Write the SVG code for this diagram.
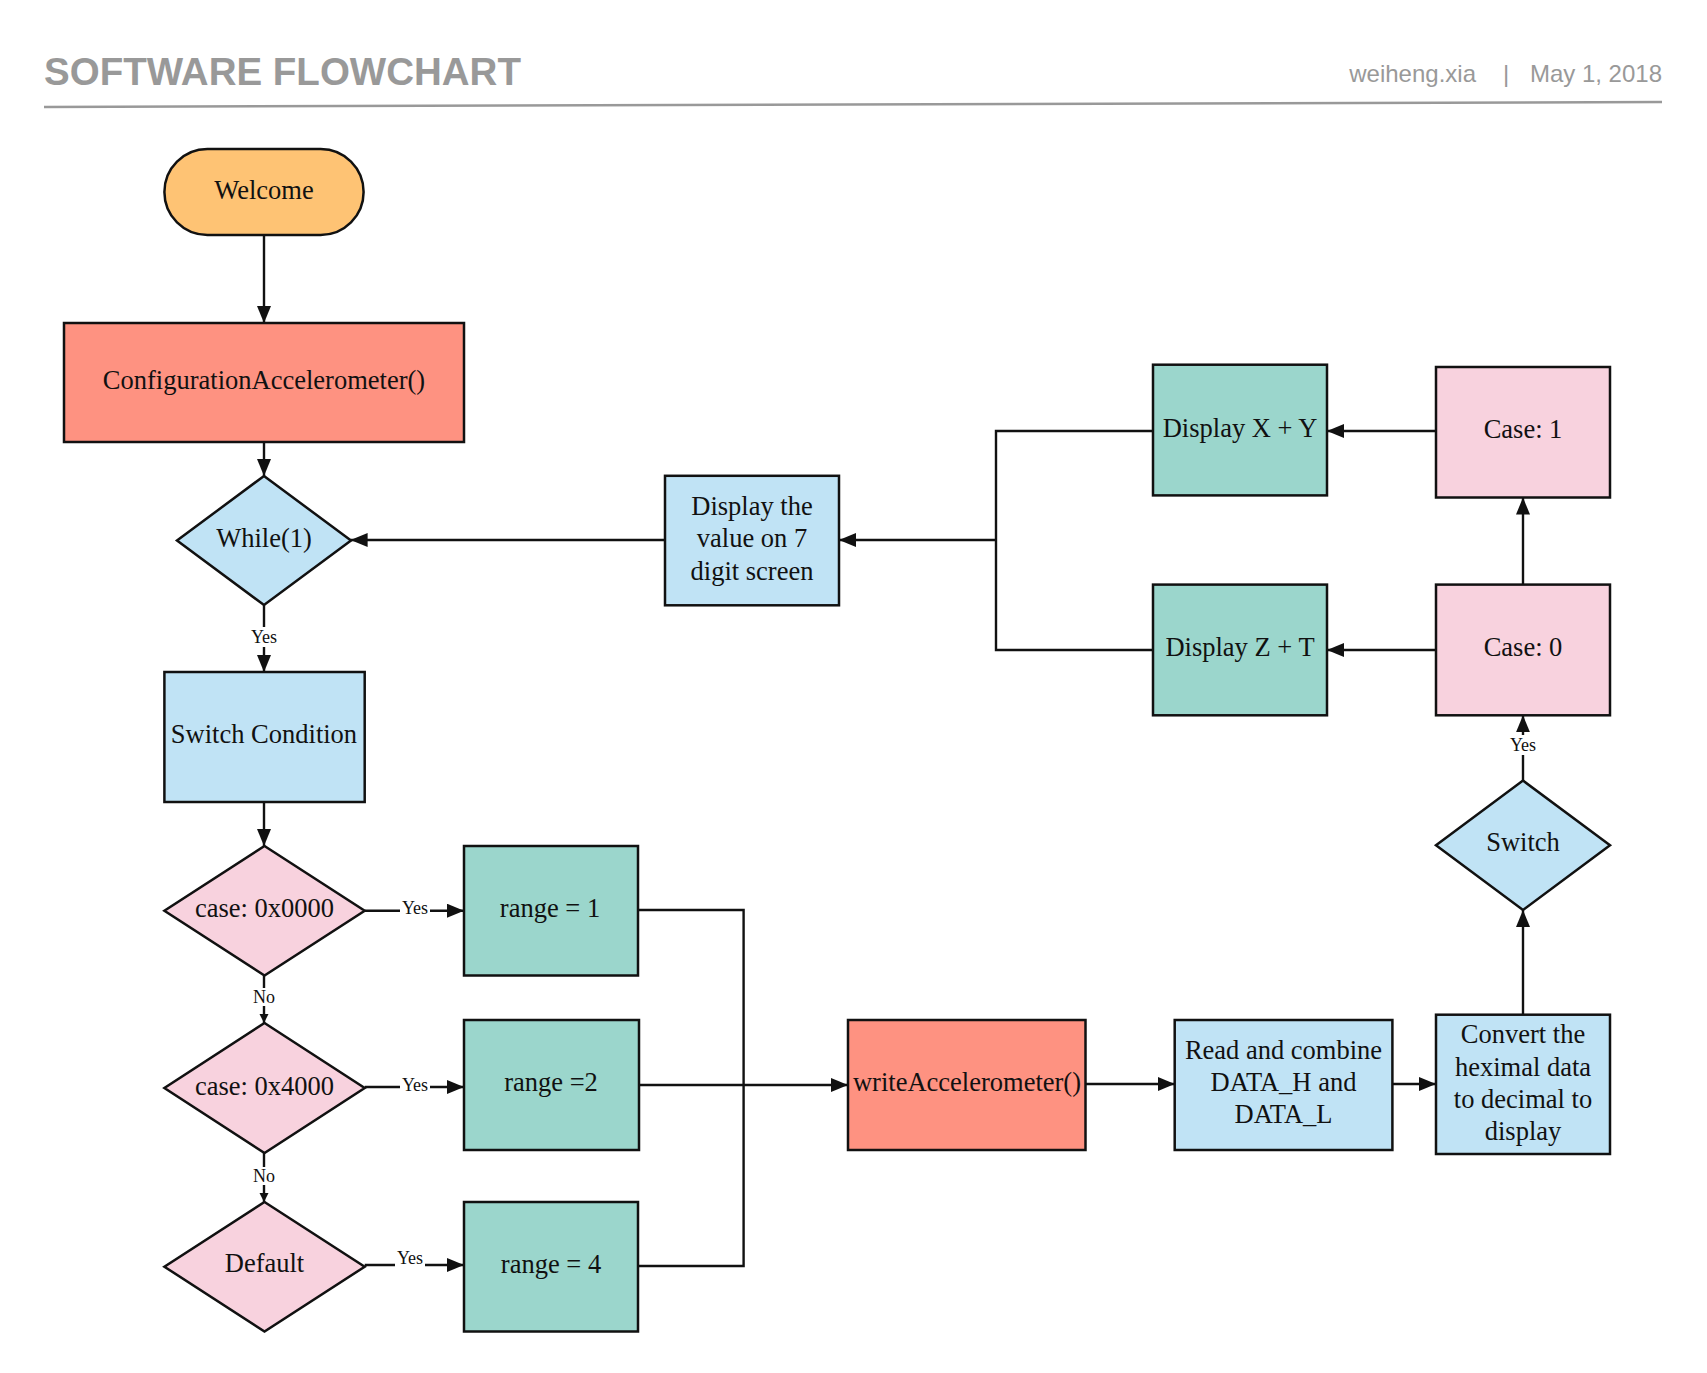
<svg xmlns="http://www.w3.org/2000/svg" width="1707" height="1373" viewBox="0 0 1707 1373">
<style>
.t{font-family:"Liberation Serif","Times New Roman",serif;font-size:26.5px;fill:#111;text-anchor:middle}
.lb{font-family:"Liberation Serif","Times New Roman",serif;font-size:18px;fill:#111;text-anchor:middle}
.n{stroke:#111;stroke-width:2.5}
.orange{fill:#FEC374}
.salmon{fill:#FE9281}
.blue{fill:#C0E3F5}
.pink{fill:#F8D2DE}
.teal{fill:#9BD6CC}
.c{fill:none;stroke:#111;stroke-width:2.4}
.hdr{font-family:"Liberation Sans",Arial,sans-serif;fill:#999}
</style>
<defs>
<marker id="ah" markerUnits="userSpaceOnUse" markerWidth="18" markerHeight="14" refX="17" refY="7" orient="auto">
<path d="M0,0 L17,7 L0,14 z" fill="#111"/>
</marker>
<marker id="ahs" markerUnits="userSpaceOnUse" markerWidth="10" markerHeight="10" refX="9" refY="4.5" orient="auto">
<path d="M0,0 L9,4.5 L0,9 z" fill="#111"/>
</marker>
</defs>
<rect width="1707" height="1373" fill="#fff"/>
<g id="header">
<text class="hdr" x="44" y="85" font-size="38.5" font-weight="bold">SOFTWARE FLOWCHART</text>
<text class="hdr" x="1476" y="82" font-size="24" text-anchor="end">weiheng.xia</text>
<text class="hdr" x="1506" y="82" font-size="24" text-anchor="middle">|</text>
<text class="hdr" x="1662" y="82" font-size="24" text-anchor="end">May 1, 2018</text>
<line x1="44" y1="107" x2="1662" y2="102" stroke="#999" stroke-width="2.5"/>
</g>
<g id="connectors">
<path class="c" d="M264 235 V323" marker-end="url(#ah)"/>
<path class="c" d="M264 442 V476" marker-end="url(#ah)"/>
<path class="c" d="M264 605 V672" marker-end="url(#ah)"/>
<path class="c" d="M264 802 V846" marker-end="url(#ah)"/>
<path class="c" d="M264 975.5 V1023" marker-end="url(#ahs)"/>
<path class="c" d="M264 1153 V1202" marker-end="url(#ahs)"/>
<path class="c" d="M364.7 910.7 H464" marker-end="url(#ah)"/>
<path class="c" d="M364.7 1087 H464" marker-end="url(#ah)"/>
<path class="c" d="M364.7 1265 H464" marker-end="url(#ah)"/>
<path class="c" d="M638 910 H743.6 V1266 H638"/>
<path class="c" d="M639 1085 H848" marker-end="url(#ah)"/>
<path class="c" d="M1085.5 1084 H1174.7" marker-end="url(#ah)"/>
<path class="c" d="M1392.4 1084 H1436" marker-end="url(#ah)"/>
<path class="c" d="M1523 1014.7 V910" marker-end="url(#ah)"/>
<path class="c" d="M1523 780.6 V715.3" marker-end="url(#ah)"/>
<path class="c" d="M1523 584.6 V497.5" marker-end="url(#ah)"/>
<path class="c" d="M1436 431 H1327" marker-end="url(#ah)"/>
<path class="c" d="M1436 650 H1327" marker-end="url(#ah)"/>
<path class="c" d="M1153 431 H996 V650 H1153"/>
<path class="c" d="M996 540 H839" marker-end="url(#ah)"/>
<path class="c" d="M665 540 H350.6" marker-end="url(#ah)"/>
<g id="labels">
<rect x="248" y="627" width="32" height="20" fill="#fff"/>
<text class="lb" x="264" y="643">Yes</text>
<rect x="250" y="988" width="28" height="18" fill="#fff"/>
<text class="lb" x="264" y="1003">No</text>
<rect x="250" y="1167" width="28" height="18" fill="#fff"/>
<text class="lb" x="264" y="1182">No</text>
<rect x="400" y="900" width="30" height="18" fill="#fff"/>
<text class="lb" x="415" y="914">Yes</text>
<rect x="400" y="1077" width="30" height="18" fill="#fff"/>
<text class="lb" x="415" y="1091">Yes</text>
<rect x="395" y="1250" width="30" height="18" fill="#fff"/>
<text class="lb" x="410" y="1264">Yes</text>
<rect x="1507" y="735" width="32" height="20" fill="#fff"/>
<text class="lb" x="1523" y="751">Yes</text>
</g>
</g>
<g id="welcome"><rect class="n orange" x="164.4" y="149" width="199.2" height="86" rx="43"/><text class="t" x="264" y="199">Welcome</text></g>
<g id="config"><rect class="n salmon" x="64" y="323" width="400" height="119"/><text class="t" x="264" y="389">ConfigurationAccelerometer()</text></g>
<g id="while"><polygon class="n blue" points="264,476 351,540.5 264,605 177,540.5"/><text class="t" x="264" y="547">While(1)</text></g>
<g id="switchcond"><rect class="n blue" x="164.4" y="672" width="200.3" height="130"/><text class="t" x="264" y="743">Switch Condition</text></g>
<g id="case0000"><polygon class="n pink" points="264.5,846 364.7,910.7 264.5,975.5 164.4,910.7"/><text class="t" x="264.5" y="917">case: 0x0000</text></g>
<g id="case4000"><polygon class="n pink" points="264.5,1023 364.7,1088 264.5,1153 164.4,1088"/><text class="t" x="264.5" y="1095">case: 0x4000</text></g>
<g id="default"><polygon class="n pink" points="264.5,1202 364.7,1266.7 264.5,1331.5 164.4,1266.7"/><text class="t" x="264.5" y="1272">Default</text></g>
<g id="range1"><rect class="n teal" x="464" y="846" width="174" height="129.5"/><text class="t" x="550" y="917">range = 1</text></g>
<g id="range2"><rect class="n teal" x="464" y="1020" width="175" height="130"/><text class="t" x="551" y="1091">range =2</text></g>
<g id="range4"><rect class="n teal" x="464" y="1202" width="174" height="129.5"/><text class="t" x="551" y="1273">range = 4</text></g>
<g id="write"><rect class="n salmon" x="848" y="1020" width="237.5" height="130"/><text class="t" x="967" y="1091">writeAccelerometer()</text></g>
<g id="read"><rect class="n blue" x="1174.7" y="1020" width="217.7" height="130"/><text class="t" x="1283.5" y="1058.5">Read and combine</text><text class="t" x="1283.5" y="1091">DATA_H and</text><text class="t" x="1283.5" y="1123">DATA_L</text></g>
<g id="convert"><rect class="n blue" x="1436" y="1014.7" width="174" height="139.3"/><text class="t" x="1523" y="1043">Convert the</text><text class="t" x="1523" y="1076">heximal data</text><text class="t" x="1523" y="1107.5">to decimal to</text><text class="t" x="1523" y="1140">display</text></g>
<g id="switch"><polygon class="n blue" points="1523,780.6 1610,845.3 1523,910 1436,845.3"/><text class="t" x="1523" y="850.5">Switch</text></g>
<g id="case0"><rect class="n pink" x="1436" y="584.6" width="174" height="130.7"/><text class="t" x="1523" y="656">Case: 0</text></g>
<g id="case1"><rect class="n pink" x="1436" y="367" width="174" height="130.5"/><text class="t" x="1523" y="438">Case: 1</text></g>
<g id="dispxy"><rect class="n teal" x="1153" y="364.7" width="174" height="130.7"/><text class="t" x="1240" y="437">Display X + Y</text></g>
<g id="dispzt"><rect class="n teal" x="1153" y="584.6" width="174" height="130.7"/><text class="t" x="1240" y="656">Display Z + T</text></g>
<g id="dispval"><rect class="n blue" x="665" y="475.8" width="174" height="129.5"/><text class="t" x="752" y="515">Display the</text><text class="t" x="752" y="547">value on 7</text><text class="t" x="752" y="579.5">digit screen</text></g>
</svg>
